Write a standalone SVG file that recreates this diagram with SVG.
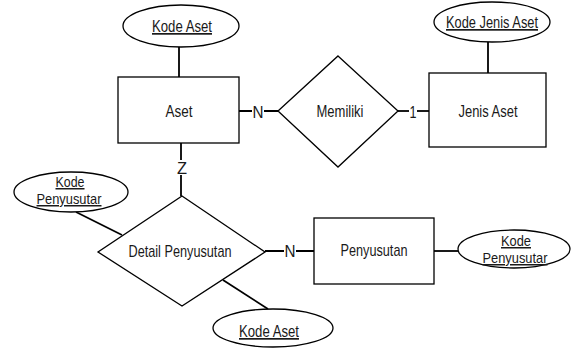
<svg xmlns="http://www.w3.org/2000/svg" width="572" height="349" viewBox="0 0 572 349">
  <style>
    .shape { fill: #fff; stroke: #000; stroke-width: 1.3; }
    .line { stroke: #000; stroke-width: 1.8; fill: none; }
    text { font-family: "Liberation Sans", Arial, sans-serif; font-size: 17px; fill: #1a1a1a; text-anchor: middle; }
    .key { text-decoration: underline; }
    .two { font-size: 15px; }
  </style>
  <rect width="572" height="349" fill="#fff"/>

  <!-- connectors -->
  <g id="connectors">
    <line class="line" x1="179" y1="47" x2="179" y2="77"/>
    <line class="line" x1="488" y1="42" x2="488" y2="73"/>
    <line class="line" x1="239" y1="111" x2="278" y2="111"/>
    <line class="line" x1="398" y1="111" x2="429" y2="111"/>
    <line class="line" x1="181" y1="143" x2="181" y2="196"/>
    <line class="line" x1="76" y1="212" x2="122" y2="235"/>
    <line class="line" x1="223" y1="280" x2="268" y2="309"/>
    <line class="line" x1="265" y1="251" x2="314" y2="251"/>
    <line class="line" x1="434" y1="251" x2="458" y2="251"/>
    <!-- cardinality labels -->
    <rect x="252" y="103" width="12" height="16" fill="#fff"/>
    <text x="258" y="118" textLength="11" lengthAdjust="spacingAndGlyphs">N</text>
    <rect x="409" y="103" width="8" height="16" fill="#fff"/>
    <text x="413" y="118" textLength="7" lengthAdjust="spacingAndGlyphs">1</text>
    <rect x="176" y="160" width="12" height="15" fill="#fff"/>
    <text x="182" y="174" textLength="10" lengthAdjust="spacingAndGlyphs">Z</text>
    <rect x="284" y="243" width="12" height="16" fill="#fff"/>
    <text x="290" y="257" textLength="11" lengthAdjust="spacingAndGlyphs">N</text>
  </g>

  <!-- entity: Aset -->
  <g id="aset">
    <rect class="shape" x="118" y="77" width="121" height="66"/>
    <text x="179" y="117" textLength="27" lengthAdjust="spacingAndGlyphs">Aset</text>
  </g>
  <g id="attr-kode-aset">
    <ellipse class="shape" cx="181" cy="26" rx="58" ry="21"/>
    <text class="key" x="182" y="32" textLength="60" lengthAdjust="spacingAndGlyphs">Kode Aset</text>
  </g>

  <!-- relationship: Memiliki -->
  <g id="memiliki">
    <polygon class="shape" points="338,56 398,111 338,167 278,111"/>
    <text x="340" y="117" textLength="47" lengthAdjust="spacingAndGlyphs">Memiliki</text>
  </g>

  <!-- entity: Jenis Aset -->
  <g id="jenis-aset">
    <rect class="shape" x="429" y="73" width="117" height="74"/>
    <text x="488" y="117" textLength="59" lengthAdjust="spacingAndGlyphs">Jenis Aset</text>
  </g>
  <g id="attr-kode-jenis-aset">
    <ellipse class="shape" cx="492" cy="22" rx="58" ry="20"/>
    <text class="key" x="492" y="28" textLength="92" lengthAdjust="spacingAndGlyphs">Kode Jenis Aset</text>
  </g>

  <!-- relationship: Detail Penyusutan -->
  <g id="detail-penyusutan">
    <polygon class="shape" points="182,196 265,252 182,306 98,252"/>
    <text x="180" y="257" textLength="103" lengthAdjust="spacingAndGlyphs">Detail Penyusutan</text>
  </g>
  <g id="attr-kode-penyusutan-left">
    <ellipse class="shape" cx="71" cy="192" rx="57" ry="20"/>
    <text class="key two" x="70" y="187" textLength="29" lengthAdjust="spacingAndGlyphs">Kode</text>
    <text class="key two" x="69" y="204" textLength="65" lengthAdjust="spacingAndGlyphs">Penyusutar</text>
  </g>
  <g id="attr-kode-aset-bottom">
    <ellipse class="shape" cx="273" cy="328" rx="60" ry="19"/>
    <text class="key" x="269" y="337" textLength="60" lengthAdjust="spacingAndGlyphs">Kode Aset</text>
  </g>

  <!-- entity: Penyusutan -->
  <g id="penyusutan">
    <rect class="shape" x="314" y="218" width="120" height="66"/>
    <text x="374" y="256" textLength="67" lengthAdjust="spacingAndGlyphs">Penyusutan</text>
  </g>
  <g id="attr-kode-penyusutan-right">
    <ellipse class="shape" cx="514" cy="249" rx="56" ry="19"/>
    <text class="key two" x="516" y="246" textLength="30" lengthAdjust="spacingAndGlyphs">Kode</text>
    <text class="key two" x="515" y="263" textLength="65" lengthAdjust="spacingAndGlyphs">Penyusutar</text>
  </g>
</svg>
